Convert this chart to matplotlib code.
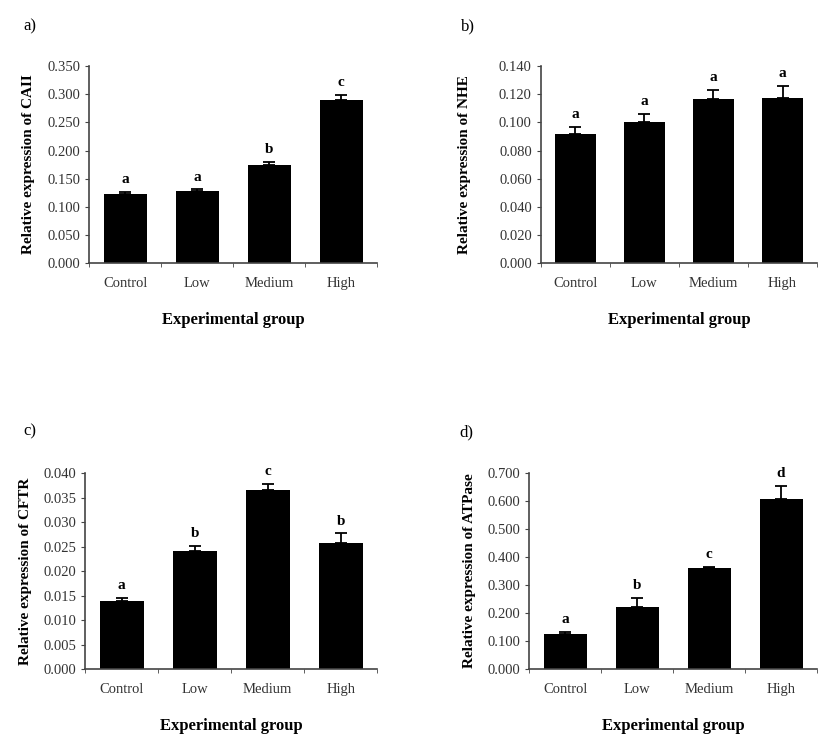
import matplotlib
matplotlib.use("Agg")
import matplotlib.pyplot as plt
from matplotlib.ticker import FormatStrFormatter, FixedLocator

plt.rcParams["font.family"] = ["Liberation Serif", "DejaVu Serif"]

groups = ["Control", "Low", "Medium", "High"]

caii_vals = [0.122, 0.128, 0.175, 0.290]
caii_err = [0.004, 0.003, 0.004, 0.008]
caii_letters = ["a", "a", "b", "c"]

nhe_vals = [0.0915, 0.1003, 0.1163, 0.1171]
nhe_err = [0.0055, 0.0057, 0.0067, 0.0087]
nhe_letters = ["a", "a", "a", "a"]

cftr_vals = [0.0138, 0.0241, 0.0365, 0.0257]
cftr_err = [0.0007, 0.0011, 0.0014, 0.0020]
cftr_letters = ["a", "b", "c", "b"]

atpase_vals = [0.125, 0.223, 0.360, 0.609]
atpase_err = [0.009, 0.030, 0.004, 0.046]
atpase_letters = ["a", "b", "c", "d"]

panels = [
    ("a)", "Relative expression of CAII", caii_vals, caii_err, caii_letters, 0.350, 0.050),
    ("b)", "Relative expression of NHE", nhe_vals, nhe_err, nhe_letters, 0.140, 0.020),
    ("c)", "Relative expression of CFTR", cftr_vals, cftr_err, cftr_letters, 0.040, 0.005),
    ("d)", "Relative expression of ATPase", atpase_vals, atpase_err, atpase_letters, 0.700, 0.100),
]

# axes rectangles in figure fraction
rects = [
    [0.108, 0.649, 0.348, 0.263],
    [0.654, 0.649, 0.334, 0.263],
    [0.103, 0.108, 0.353, 0.261],
    [0.640, 0.108, 0.348, 0.261],
]
label_pos = [(0.028, 0.965), (0.557, 0.965), (0.028, 0.425), (0.555, 0.423)]
ylab_pads = [9, 20, 8, 8]

fig = plt.figure(figsize=(8.27, 7.5), dpi=100)
axis_col = "#444444"

for (tag, ylab, vals, err, letters, ymax, step), rect, lp, pad in zip(panels, rects, label_pos, ylab_pads):
    ax = fig.add_axes(rect)
    x = range(len(groups))
    ax.bar(x, vals, width=0.6, color="black", zorder=2)
    ax.errorbar(x, vals, yerr=[[0] * len(err), err], fmt="none", ecolor="black",
                elinewidth=1.3, capsize=4, capthick=1.3, zorder=3)
    for xi, v, e, l in zip(x, vals, err, letters):
        ax.text(xi, v + e + ymax * 0.03, l, ha="center", va="bottom",
                fontsize=11, fontweight="bold")
    ax.set_xlim(-0.5, 3.5)
    ax.set_ylim(0, ymax)
    n = int(round(ymax / step))
    ax.yaxis.set_major_locator(FixedLocator([i * step for i in range(n + 1)]))
    ax.yaxis.set_major_formatter(FormatStrFormatter("%.3f"))
    ax.set_xticks(list(x))
    ax.set_xticklabels(groups)
    ax.xaxis.set_minor_locator(FixedLocator([-0.5, 0.5, 1.5, 2.5, 3.5]))
    ax.tick_params(axis="x", which="major", length=0, pad=10, labelsize=10.5)
    ax.tick_params(axis="x", which="minor", length=3, direction="out", color=axis_col)
    ax.tick_params(axis="y", length=3, direction="out", color=axis_col, labelsize=10.5,
                   labelcolor="#333333")
    ax.tick_params(axis="x", labelcolor="#333333")
    for s in ["top", "right"]:
        ax.spines[s].set_visible(False)
    for s in ["left", "bottom"]:
        ax.spines[s].set_color(axis_col)
        ax.spines[s].set_linewidth(1.2)
    ax.set_ylabel(ylab, fontsize=11, fontweight="bold", labelpad=pad)
    ax.set_xlabel("Experimental group", fontsize=12, fontweight="bold", labelpad=16)
    fig.text(lp[0], lp[1], tag, fontsize=12, ha="left", va="center")

fig.savefig("out.png", dpi=100, facecolor="white")
